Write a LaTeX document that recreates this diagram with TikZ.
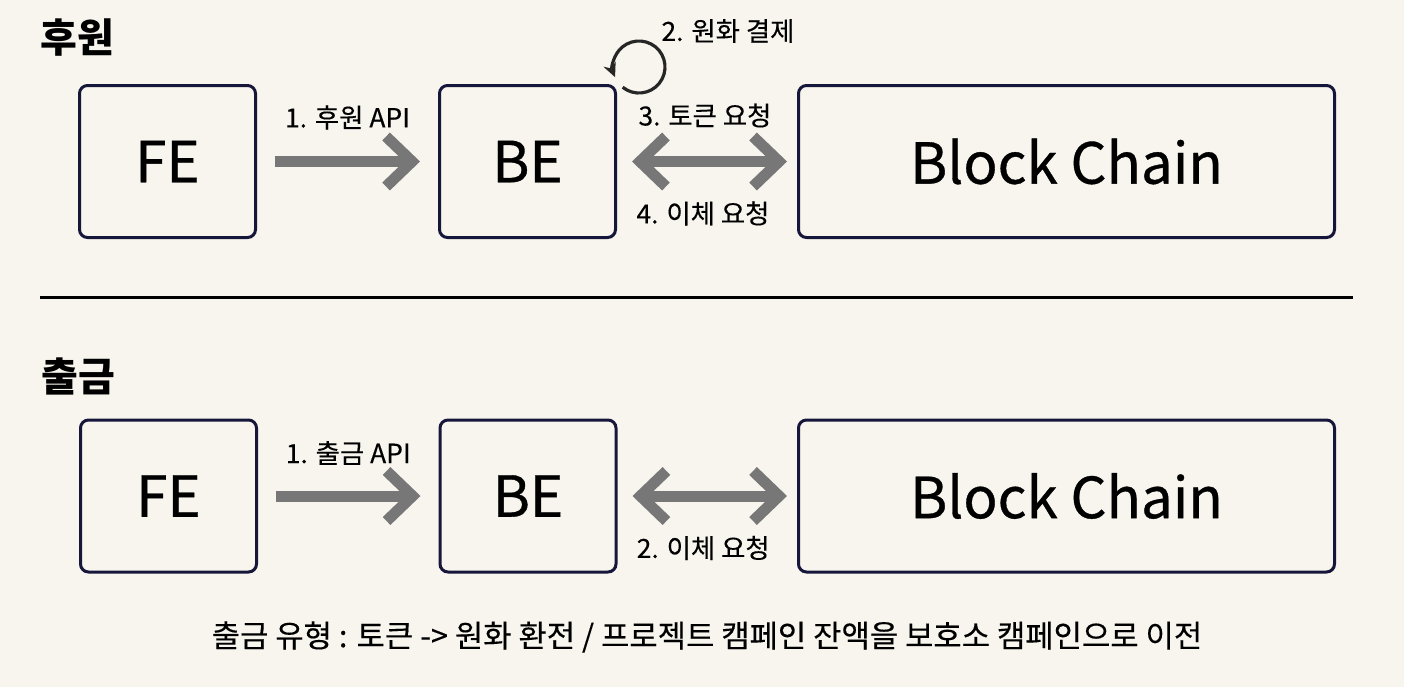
\documentclass[tikz,border=0pt]{standalone}
\usepackage{fontspec}
\setmainfont{Noto Sans CJK KR}
\newfontfamily\heavyfont[FakeBold=0.6]{Noto Sans CJK KR}
\newfontfamily\lblfont[FakeBold=0.25]{Noto Sans CJK KR}
\usetikzlibrary{arrows.meta,calc}
\definecolor{bg}{HTML}{F8F5EE}
\definecolor{navy}{HTML}{16163A}
\definecolor{arrowgray}{HTML}{777777}
\begin{document}
\begin{tikzpicture}[x=0.5pt,y=-0.5pt,
  box/.style={draw=navy, line width=1.5pt, rounded corners=4pt, minimum height=76pt, font=\heavyfont\fontsize{28.3}{33}\selectfont, inner sep=0pt},
  small/.style={minimum width=88pt},
  wide/.style={minimum width=268pt},
  bigarrow/.style={draw=arrowgray, line width=5.5pt, -{Straight Barb[length=13pt,width=25pt]}},
  dblarrow/.style={draw=arrowgray, line width=5.5pt, {Straight Barb[length=13pt,width=25pt]}-{Straight Barb[length=13pt,width=25pt]}},
  lbl/.style={font=\lblfont\fontsize{13.2}{16}\selectfont, text=black},
  title/.style={font=\bfseries\fontsize{20}{24}\selectfont, anchor=west, inner sep=0pt},
  loop/.style={draw=black!85, line width=1.6pt, -{Stealth[length=7pt,width=6.5pt]}}
]
\fill[bg] (0,0) rectangle (1404,687);
\useasboundingbox (0,0) rectangle (1404,687);

% section 1
\node[title] (t1) at (40,38) {후원};
\node[box,small] (fe1) at (167.5,161.5) {FE};
\node[box,small] (be1) at (527.5,161.5) {BE};
\node[box,wide] (bc1) at (1066.5,161.5) {Block Chain};

\draw[bigarrow, shorten <=9pt, shorten >=9pt] (fe1.east) -- node[lbl, midway, yshift=22pt] (l11) {1. 후원 API} (be1.west);
\draw[dblarrow, shorten <=7.5pt, shorten >=5pt] (be1.east) -- node[lbl, midway, yshift=23pt, xshift=-1pt] (l13) {3. 토큰 요청} node[lbl, midway, yshift=-26pt, xshift=-2pt] (l14) {4. 이체 요청} (bc1.west);

\coordinate (loopc) at (639,67);
\draw[loop] ($(loopc)+(129:26)$) arc[start angle=129, end angle=-203, radius=26];
\node[lbl] (l12) at (728,31) {2. 원화 결제};

% divider
\coordinate (d1) at (40,297);
\coordinate (d2) at (1353,297);
\draw[line width=1.5pt, black] (d1) -- (d2);

% section 2
\node[title] (t2) at (41,376) {출금};
\node[box,small] (fe2) at (168.5,496) {FE};
\node[box,small] (be2) at (528,496) {BE};
\node[box,wide] (bc2) at (1066.5,496) {Block Chain};

\draw[bigarrow, shorten <=9pt, shorten >=9pt] (fe2.east) -- node[lbl, midway, yshift=21.5pt] (l21) {1. 출금 API} (be2.west);
\draw[dblarrow, shorten <=7.5pt, shorten >=5pt] (be2.east) -- node[lbl, midway, yshift=-26pt, xshift=-2pt] (l22) {2. 이체 요청} (bc2.west);

\node[font=\lblfont\fontsize{15.4}{18}\selectfont] (cap) at (707,637) {출금 유형 : 토큰 -> 원화 환전 / 프로젝트 캠페인 잔액을 보호소 캠페인으로 이전};
\end{tikzpicture}
\end{document}
